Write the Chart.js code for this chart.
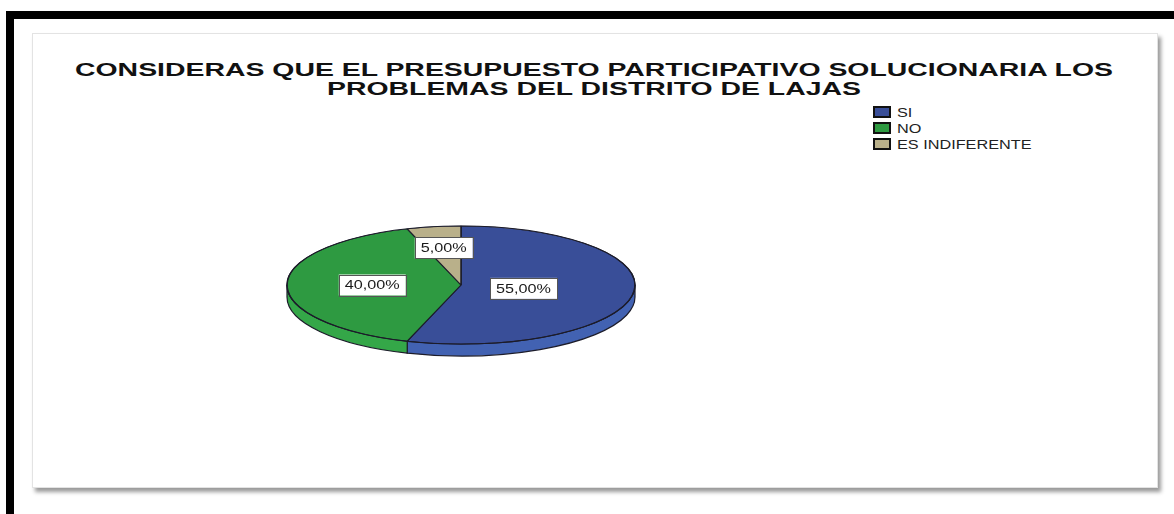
<!doctype html>
<html lang="es">
  <head>
    <meta charset="utf-8">
    <title>Presupuesto participativo - Distrito de Lajas</title>
    <style>
      * {
        margin: 0;
        padding: 0;
        box-sizing: border-box;
      }
      body {
        width: 1174px;
        height: 514px;
        position: relative;
        overflow: hidden;
        background: #fff;
        font-family: Arial, "Liberation Sans", sans-serif;
      }
      .frame {
        position: absolute;
        left: 6px;
        top: 11px;
        right: 0;
        bottom: 0;
        border-top: 8px solid #000;
        border-left: 8px solid #000;
      }
      .panel {
        position: absolute;
        left: 32px;
        top: 33px;
        width: 1126px;
        height: 455px;
        background: #fff;
        border: 1px solid #e3e3e3;
        box-shadow: 3px 4px 4px rgba(0, 0, 0, 0.4);
      }
      .title {
        position: absolute;
        left: 0;
        width: 1188px;
        text-align: center;
        font-weight: bold;
        font-size: 18.7px;
        line-height: 19px;
        color: #111;
        white-space: nowrap;
        transform: scaleX(1.52);
      }
      .legend {
        position: absolute;
        left: 873px;
        top: 105px;
        list-style: none;
      }
      .legend li {
        position: relative;
        height: 16px;
        line-height: 16px;
        font-size: 12.5px;
        color: #222;
        white-space: nowrap;
      }
      .legend .box {
        position: absolute;
        left: 0;
        top: 1px;
        width: 18px;
        height: 12px;
        border: 2px solid #111;
      }
      .legend .txt {
        position: absolute;
        left: 24px;
        top: 0;
        transform: scaleX(1.3);
        transform-origin: left center;
      }
      .pieBox {
        position: absolute;
        left: 285px;
        top: 109px;
        width: 352px;
        height: 352px;
      }
    </style>
  </head>
  <body>
    <div class="frame"></div>
    <div class="panel"></div>
    <div class="title" id="title1" style="top:60px"></div>
    <div class="title" id="title2" style="top:79px"></div>
    <ul class="legend" id="legend"></ul>
    <div class="pieBox">
      <canvas id="pie" width="352" height="352"></canvas>
    </div>

    <script src="https://cdn.jsdelivr.net/npm/chart.js"></script>
    <script>
    // data
    const titleLines = ['CONSIDERAS QUE EL PRESUPUESTO PARTICIPATIVO SOLUCIONARIA LOS', 'PROBLEMAS DEL DISTRITO DE LAJAS'];
    const categories = ['SI', 'NO', 'ES INDIFERENTE'];
    const percentages = [55, 40, 5];

    // styles
    const topColors = ['#394e98', '#2e9a41', '#b9b08a'];
    const sideColors = ['#4262b2', '#34a748', '#c6bd96'];
    const labelDistance = [0.364, 0.51, 0.635]; // how far out along the slice each label sits
    const TILT = 59 / 174;
    const DEPTH = 12;
    const STRETCH = 1.35;

    document.getElementById('title1').textContent = titleLines[0];
    document.getElementById('title2').textContent = titleLines[1];

    const legend = document.getElementById('legend');
    categories.forEach((c, i) => {
      const li = document.createElement('li');
      li.innerHTML = '<span class="box" style="background:' + topColors[i] + '"></span><span class="txt">' + c + '</span>';
      legend.appendChild(li);
    });

    // squash the pie into an ellipse and give it a rim
    const tiltPlugin = {
      id: 'tilt',
      beforeDatasetsDraw(chart) {
        const ctx = chart.ctx;
        const arcs = chart.getDatasetMeta(0).data;
        const cx = arcs[0].x, cy = arcs[0].y, r = arcs[0].outerRadius;
        const ry = r * TILT;

        arcs.forEach((arc, i) => {
          const a1 = Math.max(arc.startAngle, 0);
          const a2 = Math.min(arc.endAngle, Math.PI);
          if (a2 <= a1) return;
          ctx.beginPath();
          ctx.ellipse(cx, cy, r, ry, 0, a1, a2);
          ctx.ellipse(cx, cy + DEPTH, r, ry, 0, a2, a1, true);
          ctx.closePath();
          ctx.fillStyle = sideColors[i];
          ctx.fill();
          ctx.strokeStyle = '#1c1c2a';
          ctx.lineWidth = 1.2;
          ctx.stroke();
        });

        ctx.save();
        ctx.translate(cx, cy);
        ctx.scale(1, TILT);
        ctx.translate(-cx, -cy);
      },
      afterDatasetsDraw(chart) {
        const ctx = chart.ctx;
        ctx.restore();
        const arc = chart.getDatasetMeta(0).data[0];
        ctx.beginPath();
        ctx.ellipse(arc.x, arc.y, arc.outerRadius, arc.outerRadius * TILT, 0, 0, Math.PI * 2);
        ctx.strokeStyle = '#1c1c2a';
        ctx.lineWidth = 1.2;
        ctx.stroke();
      }
    };

    // boxed percentage labels
    const labelPlugin = {
      id: 'pctLabels',
      afterDraw(chart) {
        const ctx = chart.ctx;
        const arcs = chart.getDatasetMeta(0).data;
        const total = percentages.reduce((a, b) => a + b, 0);
        arcs.forEach((arc, i) => {
          const mid = (arc.startAngle + arc.endAngle) / 2;
          const d = arc.outerRadius * labelDistance[i];
          const x = arc.x + Math.cos(mid) * d;
          const y = arc.y + Math.sin(mid) * d * TILT;
          const text = (percentages[i] / total * 100).toFixed(2).replace('.', ',') + '%';

          ctx.font = '12px Arial, "Liberation Sans", sans-serif';
          const w = ctx.measureText(text).width * STRETCH + 12;
          const h = 21;
          ctx.fillStyle = '#fff';
          ctx.fillRect(x - w / 2, y - h / 2, w, h);
          ctx.strokeStyle = '#555';
          ctx.lineWidth = 1;
          ctx.strokeRect(Math.round(x - w / 2) + 0.5, Math.round(y - h / 2) + 0.5, Math.round(w), h);

          ctx.save();
          ctx.translate(x, y);
          ctx.scale(STRETCH, 1);
          ctx.textAlign = 'center';
          ctx.textBaseline = 'middle';
          ctx.fillStyle = '#1a1a1a';
          ctx.fillText(text, 0, 1);
          ctx.restore();
        });
      }
    };

    const data = {
      labels: categories,
      datasets: [{
        data: percentages,
        backgroundColor: topColors,
        borderColor: '#1c1c2a',
        borderWidth: 1.5
      }]
    };

    const config = {
      type: 'pie',
      data,
      options: {
        responsive: false,
        animation: false,
        radius: 174,
        layout: { padding: 0 },
        events: [],
        plugins: {
          legend: { display: false },
          tooltip: { enabled: false }
        }
      },
      plugins: [tiltPlugin, labelPlugin]
    };

    const myChart = new Chart(document.getElementById('pie'), config);
    </script>
  </body>
</html>
